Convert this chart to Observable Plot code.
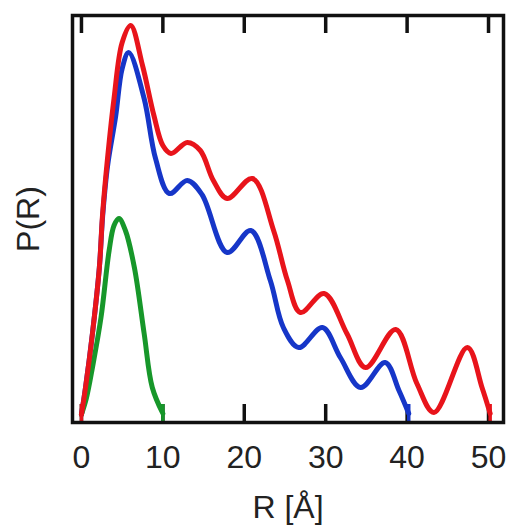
<!DOCTYPE html>
<html>
<head>
<meta charset="utf-8">
<script src="https://cdn.jsdelivr.net/npm/d3@7"></script>
<script src="https://cdn.jsdelivr.net/npm/@observablehq/plot@0.6"></script>
<style>
  html, body { margin: 0; padding: 0; background: #fff; }
  #chart { width: 511px; height: 527px; }
</style>
</head>
<body>
<div id="chart"></div>
<script>
// R in Å, P(R) in arbitrary units
const redR = [0, 0.5, 1.35, 2.2, 2.6, 3.2, 4.0, 5.0, 6.05, 7.5, 8.9, 10.0, 11.0, 13.0, 14.6, 16.2, 17.9, 21.0, 23.6, 25.3, 26.9, 29.8, 32.6, 34.9, 38.6, 41.2, 43.3, 47.4, 49.2, 50.2];
const redP = [2, 29, 83, 149, 203, 258, 318, 374, 391, 351, 301, 271, 263, 274, 266, 236, 218, 238, 186, 136, 104, 123, 83, 49, 87, 33, 4, 69, 29, 3];

const blueR = [0, 0.5, 1.35, 2.2, 2.6, 3.2, 4.2, 5.0, 5.8, 7.7, 9.1, 10.8, 13.0, 14.8, 17.9, 20.8, 23.2, 24.8, 26.7, 29.6, 31.8, 34.3, 37.3, 39.0, 40.2];
const blueP = [2, 29, 83, 149, 200, 250, 300, 348, 364, 318, 258, 223, 236, 222, 164, 186, 136, 89, 69, 89, 59, 29, 54, 26, 3];

const greenR = [0, 0.6, 1.35, 2.4, 3.4, 4.0, 4.6, 5.4, 6.5, 7.7, 8.7, 10.0];
const greenP = [2, 18, 49, 99, 166, 191, 198, 186, 149, 83, 29, 3];

const xTicks = [0, 10, 20, 30, 40, 50];
const xLabel = "R [Å]";
const yLabel = "P(R)";

const seriesNames = ["full", "partial", "short"];
const seriesColors = ["#e8141b", "#1636c8", "#17972a"];

const toRows = (name, rs, ps) => rs.map((r, i) => ({series: name, R: r, P: ps[i]}));
const rows = [
  ...toRows("partial", blueR, blueP),
  ...toRows("short", greenR, greenP),
  ...toRows("full", redR, redP)
];
const ends = [
  {series: "full", R: redR[0]},
  {series: "full", R: redR[redR.length - 1]},
  {series: "partial", R: blueR[blueR.length - 1]},
  {series: "short", R: greenR[greenR.length - 1]}
];

const W = 511, H = 527;
const mT = 15, mB = 105, mL = 72, mR = 8;
const frameH = H - mT - mB;

const chart = Plot.plot({
  width: W,
  height: H,
  marginTop: mT,
  marginBottom: mB,
  marginLeft: mL,
  marginRight: mR,
  style: {fontFamily: "'Liberation Sans', Arial, sans-serif", color: "#222", background: "#fff"},
  x: {domain: [-1.1, 51.84]},
  y: {domain: [-6, 401]},
  color: {domain: seriesNames, range: seriesColors},
  marks: [
    Plot.tickX(xTicks, {x: d => d, stroke: "#111", strokeWidth: 3.5, insetTop: frameH - 18}),
    Plot.tickX(xTicks, {x: d => d, stroke: "#111", strokeWidth: 3.5, insetBottom: frameH - 18}),
    Plot.axisX(xTicks, {anchor: "bottom", tickSize: 0, tickPadding: 23, fontSize: 32, label: null, fill: "#222"}),
    Plot.axisY([], {label: null}),
    Plot.line(rows, {x: "R", y: "P", z: "series", stroke: "series", strokeWidth: 5, curve: "catmull-rom"}),
    Plot.tickX(ends, {x: "R", stroke: "series", strokeWidth: 3.5, insetTop: frameH - 18}),
    Plot.frame({stroke: "#111", strokeWidth: 3.5}),
    Plot.text([yLabel], {frameAnchor: "left", dx: -44, rotate: -90, fontSize: 32, fill: "#222", textAnchor: "middle", lineAnchor: "middle"}),
    Plot.text([xLabel], {frameAnchor: "bottom", dy: 85, fontSize: 32, fill: "#222", textAnchor: "middle", lineAnchor: "middle"})
  ]
});
document.getElementById("chart").appendChild(chart);
</script>
</body>
</html>
